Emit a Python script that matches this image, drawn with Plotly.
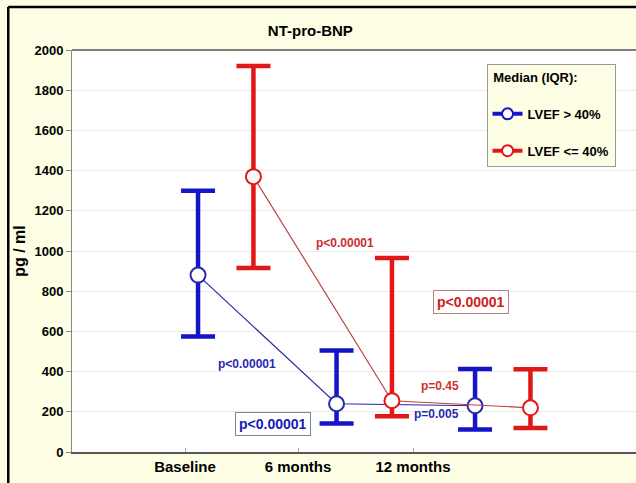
import plotly.graph_objects as go

# NT-pro-BNP, median with interquartile range, by LVEF group
timepoints = ["Baseline", "6 months", "12 months"]

lvef_gt40_median = [880, 240, 230]
lvef_gt40_q3 = [1300, 505, 413]
lvef_gt40_q1 = [575, 142, 112]

lvef_le40_median = [1370, 255, 220]
lvef_le40_q3 = [1920, 965, 412]
lvef_le40_q1 = [915, 178, 120]

y_ticks = [0, 200, 400, 600, 800, 1000, 1200, 1400, 1600, 1800, 2000]

BLUE = "#1414C8"
BLUE_LINE = "#2A2AA8"
RED = "#E01818"
RED_LINE = "#C04040"
BG = "#FEFEE4"
FONT = "Liberation Sans, Arial"

# horizontal placement: groups are spaced evenly, second series shifted right
group_pos = [1.0, 2.0, 3.0]
shift = 0.4
tick_pos = [0.906, 1.722, 2.552]

x_gt = list(group_pos)
x_le = [p + shift for p in group_pos]


def err(med, hi, lo):
    return ([h - m for h, m in zip(hi, med)], [m - l for m, l in zip(med, lo)])


def bfont(size, color="black"):
    return dict(family=FONT, size=size, color=color, weight="bold")


fig = go.Figure()

for xs, med, hi, lo, ec, lc, mc in [
    (x_gt, lvef_gt40_median, lvef_gt40_q3, lvef_gt40_q1, BLUE, BLUE_LINE, BLUE_LINE),
    (x_le, lvef_le40_median, lvef_le40_q3, lvef_le40_q1, RED, RED_LINE, RED),
]:
    up, down = err(med, hi, lo)
    fig.add_trace(go.Scatter(
        x=xs, y=med, mode="lines", showlegend=False,
        line=dict(color=lc, width=1.2),
        error_y=dict(type="data", symmetric=False, array=up, arrayminus=down,
                     color=ec, thickness=4.5, width=17),
    ))
    # open circle markers drawn above the error bars
    fig.add_trace(go.Scatter(
        x=xs, y=med, mode="markers", showlegend=False,
        marker=dict(symbol="circle", size=15, color="white",
                    line=dict(color=mc, width=2)),
    ))

# legend entries
for name, c in [("LVEF > 40%", BLUE), ("LVEF <= 40%", RED)]:
    fig.add_trace(go.Scatter(
        x=[None], y=[None], mode="lines+markers", name=name, legendgroup=name,
        line=dict(color=c, width=4),
        marker=dict(symbol="circle", size=11, color="white",
                    line=dict(color=c, width=2)),
    ))

annotations = [
    dict(x=2.06, y=1040, text="p<0.00001", font=bfont(12, "#C83030")),
    dict(x=1.35, y=440, text="p<0.00001", font=bfont(12, "#2A2AB0")),
    dict(x=2.97, y=745, text="p<0.00001", font=bfont(14, "#D02020"),
         bordercolor="#C08080", borderwidth=1, bgcolor="white", borderpad=3),
    dict(x=1.54, y=140, text="p<0.00001", font=bfont(14, "#1A1AB8"),
         bordercolor="#8080A0", borderwidth=1, bgcolor="white", borderpad=3),
    dict(x=2.75, y=330, text="p=0.45", font=bfont(12, "#D03030")),
    dict(x=2.72, y=188, text="p=0.005", font=bfont(12, "#2A2AB0")),
]
for a in annotations:
    a.update(xref="x", yref="y", showarrow=False)

# outer frame (left and top edges) and the top edge of the plot area
frame = [
    dict(type="line", xref="paper", yref="paper",
         x0=-0.113, x1=-0.113, y0=-0.078, y1=1.107,
         line=dict(color="black", width=2.5)),
    dict(type="line", xref="paper", yref="paper",
         x0=-0.113, x1=1.0, y0=1.107, y1=1.107,
         line=dict(color="black", width=2.5)),
    dict(type="line", xref="paper", yref="paper",
         x0=0, x1=1.0, y0=1.0, y1=1.0,
         line=dict(color="#555555", width=1.5)),
]

fig.update_layout(
    width=636, height=483,
    margin=dict(l=72, r=0, t=50, b=31),
    paper_bgcolor=BG,
    plot_bgcolor="white",
    title=dict(text="NT-pro-BNP", x=0.488, xanchor="center", y=0.937,
               yanchor="middle", font=bfont(15)),
    font=dict(family=FONT, color="black"),
    annotations=annotations,
    shapes=frame,
    legend=dict(
        title=dict(text=" Median (IQR):<br> ", font=bfont(13)),
        x=0.735, y=0.965, xanchor="left", yanchor="top",
        bgcolor=BG, bordercolor="#999999", borderwidth=1,
        font=bfont(13), tracegroupgap=17, itemwidth=30,
    ),
    xaxis=dict(
        range=[0.09, 4.162], tickmode="array", tickvals=tick_pos,
        ticktext=timepoints,
        tickfont=bfont(15), ticks="inside", ticklen=4,
        tickcolor="#AAAAAA", showgrid=False, zeroline=False,
        showline=True, linecolor="#555555", linewidth=1.5,
    ),
    yaxis=dict(
        title=dict(text="pg / ml", font=bfont(16), standoff=4),
        range=[0, 2000], tickvals=y_ticks,
        tickfont=bfont(13), ticks="outside", ticklen=5,
        tickcolor="#888888", showgrid=True, gridcolor="#EBEBEB",
        zeroline=False, showline=True, linecolor="#888888", linewidth=1,
    ),
)

fig.write_html("out.html")
